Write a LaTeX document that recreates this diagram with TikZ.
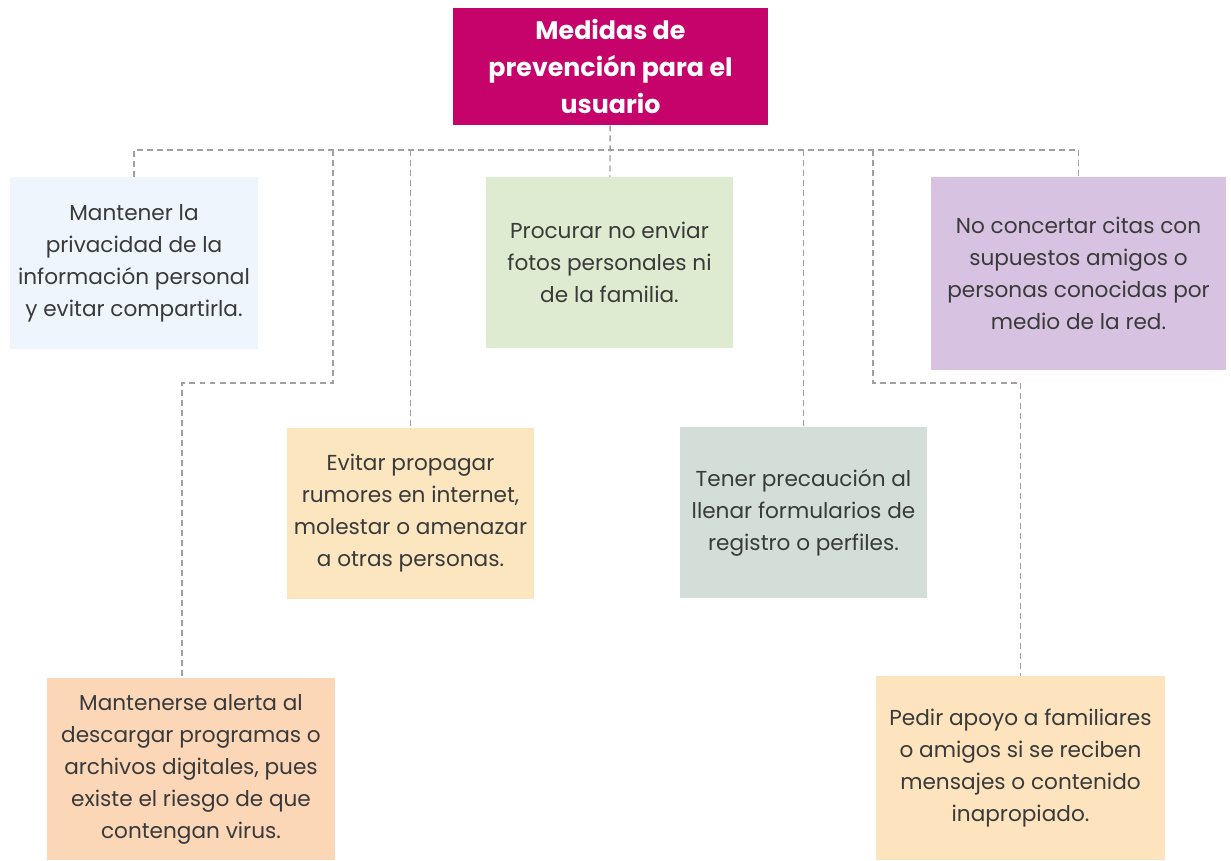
\documentclass[tikz,border=0pt]{standalone}
\usepackage{fontspec}
\setmainfont{Poppins}
\usetikzlibrary{positioning}
\definecolor{magenta}{RGB}{198,3,107}
\definecolor{celeste}{RGB}{238,245,252}
\definecolor{verde}{RGB}{222,235,208}
\definecolor{lila}{RGB}{216,194,225}
\definecolor{crema}{RGB}{252,230,191}
\definecolor{gris}{RGB}{212,222,216}
\definecolor{durazno}{RGB}{251,214,183}
\definecolor{arena}{RGB}{253,228,190}
\definecolor{texto}{RGB}{58,58,58}
\definecolor{linea}{RGB}{160,160,160}
\begin{document}
\begin{tikzpicture}[x=0.02cm, y=-0.02cm,
	caja/.style={inner sep=0pt, align=center, text=texto, font=\fontsize{12.3}{18.2}\selectfont},
	titulo/.style={caja, fill=magenta, text=white, font=\fontsize{14.4}{21}\selectfont\bfseries,
		minimum width=315*0.02cm, minimum height=117*0.02cm},
	conector/.style={draw=linea, line width=0.8pt, dash pattern=on 3.4pt off 2.3pt}]
	\useasboundingbox (0,0) rectangle (1231,860);
	% nodo principal
	\node[titulo] (titulo) at (610.5,66.5) {Medidas de\\prevención para el\\usuario};
	% primera fila
	\node[caja, fill=celeste, minimum width=248*0.02cm, minimum height=172*0.02cm] (privacidad) at (134,263)
		{Mantener la\\privacidad de la\\información personal\\y evitar compartirla.};
	\node[caja, fill=verde, minimum width=247*0.02cm, minimum height=171*0.02cm] (fotos) at (609.5,262.5)
		{Procurar no enviar\\fotos personales ni\\de la familia.};
	\node[caja, fill=lila, minimum width=295*0.02cm, minimum height=193*0.02cm] (citas) at (1078.5,273.5)
		{No concertar citas con\\supuestos amigos o\\personas conocidas por\\medio de la red.};
	% segunda fila
	\node[caja, fill=crema, minimum width=247*0.02cm, minimum height=171*0.02cm] (rumores) at (410.5,513.5)
		{Evitar propagar\\rumores en internet,\\molestar o amenazar\\a otras personas.};
	\node[caja, fill=gris, minimum width=247*0.02cm, minimum height=171*0.02cm] (formularios) at (803.5,512.5)
		{Tener precaución al\\llenar formularios de\\registro o perfiles.};
	% tercera fila
	\node[caja, fill=durazno, minimum width=288*0.02cm, minimum height=182*0.02cm] (virus) at (191,769)
		{Mantenerse alerta al\\descargar programas o\\archivos digitales, pues\\existe el riesgo de que\\contengan virus.};
	\node[caja, fill=arena, minimum width=289*0.02cm, minimum height=184*0.02cm] (apoyo) at (1020.5,768)
		{Pedir apoyo a familiares\\o amigos si se reciben\\mensajes o contenido\\inapropiado.};
	% conectores
	\coordinate (bus) at (610,150);
	\coordinate (izq) at (333,383);
	\coordinate (der) at (873,383);
	\draw[conector] (titulo) -- (fotos);
	\draw[conector] (privacidad.north) |- (bus) -| (citas.north);
	\draw[conector] (bus -| rumores) -- (rumores.north);
	\draw[conector] (bus -| formularios) -- (formularios.north);
	\draw[conector] (izq |- bus) -- (izq) -| ([xshift=-0.18cm]virus.north);
	\draw[conector] (der |- bus) -- (der) -| (apoyo.north);
\end{tikzpicture}
\end{document}
